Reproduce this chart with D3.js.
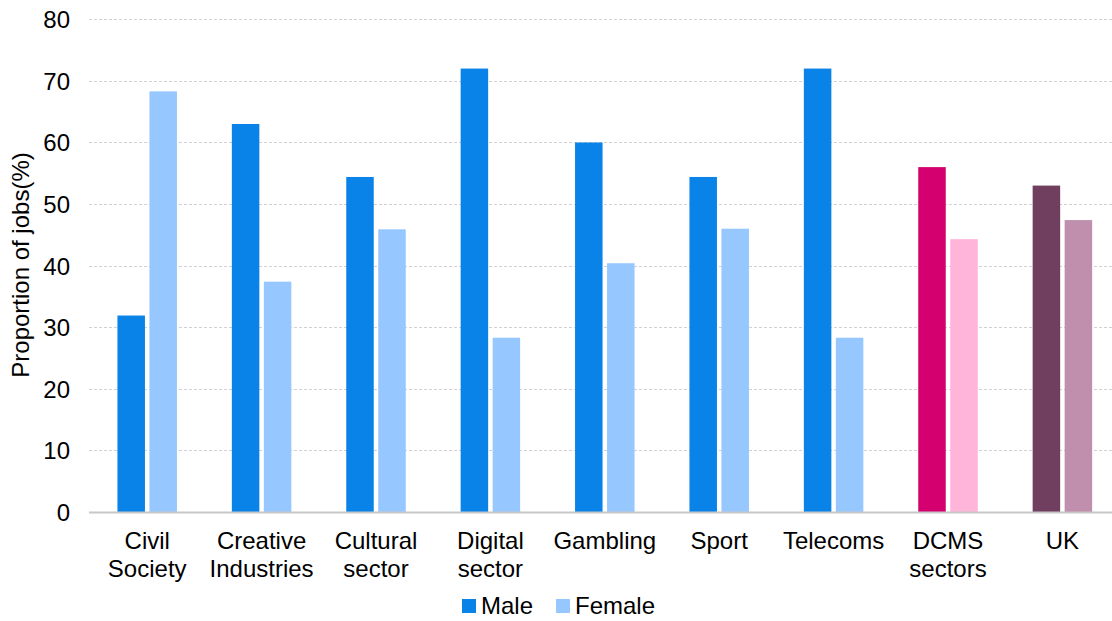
<!DOCTYPE html>
<html>
<head>
<meta charset="utf-8">
<script src="https://cdn.jsdelivr.net/npm/d3@7"></script>
<style>
  html, body { margin: 0; padding: 0; background: #fff; }
  svg { display: block; font-family: "Liberation Sans", Arial, sans-serif; }
</style>
</head>
<body>
<svg id="chart" width="1112" height="621"></svg>
<script>
const categories = [["Civil","Society"],["Creative","Industries"],["Cultural","sector"],["Digital","sector"],["Gambling"],["Sport"],["Telecoms"],["DCMS","sectors"],["UK"]];
const maleValues   = [31.9, 63.0, 54.4, 72.0, 60.0, 54.4, 72.0, 56.0, 53.0];
const femaleValues = [68.3, 37.4, 45.9, 28.3, 40.4, 46.0, 28.3, 44.3, 47.4];
const maleColors   = ["#0A83E8","#0A83E8","#0A83E8","#0A83E8","#0A83E8","#0A83E8","#0A83E8","#D4006F","#703E5E"];
const femaleColors = ["#96C8FF","#96C8FF","#96C8FF","#96C8FF","#96C8FF","#96C8FF","#96C8FF","#FFB4DA","#BF8FAD"];
const yTicks = [0,10,20,30,40,50,60,70,80];
const seriesNames = ["Male","Female"];

const svg = d3.select("#chart");
const keys = categories.map(c => c.join(" "));
const FS = 24;

const x = d3.scaleBand().domain(keys).range([90, 1119.6]).paddingInner(0).paddingOuter(0);
const y = d3.scaleLinear().domain([0, 80]).range([512, 19.3]);

// gridlines
svg.append("g").selectAll("line").data(yTicks.filter(t => t > 0)).join("line")
  .attr("x1", 89).attr("x2", 1112)
  .attr("y1", d => Math.round(y(d)) + 0.5).attr("y2", d => Math.round(y(d)) + 0.5)
  .attr("stroke", "#d4cfd2").attr("stroke-width", 1).attr("stroke-dasharray", "3,2");

// y axis labels
const yAxis = d3.axisLeft(y).tickValues(yTicks).tickSize(0).tickPadding(0);
const yg = svg.append("g").attr("transform", "translate(70,0)").call(yAxis);
yg.select(".domain").remove();
yg.selectAll("text").attr("font-size", FS).attr("fill", "#000")
  .attr("font-family", "'Liberation Sans', Arial, sans-serif").attr("dy", "0.35em");

// y title
svg.append("text")
  .attr("transform", "translate(29,265) rotate(-90)")
  .attr("text-anchor", "middle")
  .attr("font-size", FS).attr("fill", "#000")
  .text("Proportion of jobs(%)");

const step = x.bandwidth();
const barW = 27.5;
const gap = 4.5;

const groups = svg.append("g").selectAll("g").data(keys).join("g")
  .attr("transform", d => `translate(${x(d) + step/2},0)`);

groups.append("rect")
  .attr("x", -gap/2 - barW).attr("width", barW)
  .attr("y", (d, i) => y(maleValues[i]))
  .attr("height", (d, i) => y(0) - y(maleValues[i]))
  .attr("fill", (d, i) => maleColors[i]);

groups.append("rect")
  .attr("x", gap/2).attr("width", barW)
  .attr("y", (d, i) => y(femaleValues[i]))
  .attr("height", (d, i) => y(0) - y(femaleValues[i]))
  .attr("fill", (d, i) => femaleColors[i]);

// baseline
svg.append("line").attr("x1", 89).attr("x2", 1112).attr("y1", 512.5).attr("y2", 512.5)
  .attr("stroke", "#c8c8c8").attr("stroke-width", 2);

// x labels
groups.each(function(d, i) {
  const t = d3.select(this).append("text")
    .attr("text-anchor", "middle").attr("font-size", FS).attr("fill", "#000");
  categories[i].forEach((line, j) => {
    t.append("tspan").attr("x", 0).attr("y", 549 + j * 28).text(line);
  });
});

// legend
const legend = svg.append("g");
const legendItems = [
  { name: seriesNames[0], color: maleColors[0], x: 462 },
  { name: seriesNames[1], color: femaleColors[0], x: 556 }
];
legendItems.forEach(it => {
  legend.append("rect").attr("x", it.x).attr("y", 599).attr("width", 14).attr("height", 14).attr("fill", it.color);
  legend.append("text").attr("x", it.x + 19).attr("y", 614).attr("font-size", FS).attr("fill", "#000").text(it.name);
});
</script>
</body>
</html>
